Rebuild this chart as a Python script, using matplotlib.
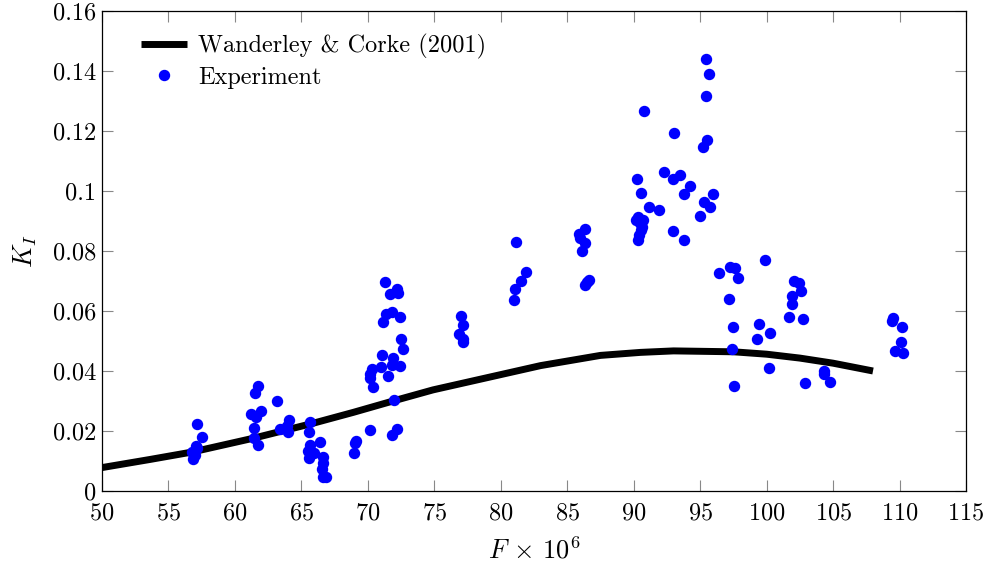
import matplotlib
matplotlib.use('Agg')
import matplotlib.pyplot as plt
from matplotlib.ticker import FuncFormatter

# Police type LaTeX (Computer Modern)
plt.rcParams['font.family'] = 'serif'
plt.rcParams['font.serif'] = ['cmr10', 'DejaVu Serif']
plt.rcParams['mathtext.fontset'] = 'cm'
plt.rcParams['axes.unicode_minus'] = False
plt.rcParams['axes.formatter.use_mathtext'] = True

# Courbe de Wanderley & Corke (2001)
model_f = [50, 53.6, 56.8, 61.4, 65.9, 68.9, 71.9, 74.9, 79.9, 83.0, 87.5,
           90.5, 93.0, 97.5, 100.0, 102.5, 105.0, 108.0]
model_k = [0.0078, 0.0105, 0.0130, 0.0176, 0.0226, 0.0262, 0.0300, 0.0337,
           0.0387, 0.0418, 0.0452, 0.0462, 0.0467, 0.0464, 0.0456, 0.0443,
           0.0426, 0.0400]

# Points expérimentaux
exp_f = [57.17, 57.55, 56.87, 57.0, 57.17, 56.75, 57.1, 56.95,
         61.76, 61.5, 61.19, 62.0, 61.6, 61.4, 61.44, 61.76, 63.2, 63.4, 64.07, 64.0, 63.9,
         65.65, 65.6, 65.65, 65.52, 65.6, 65.95, 66.4, 66.65, 66.6, 66.58, 66.65, 66.83,
         71.29, 71.67, 72.22, 72.3, 71.17, 71.34, 71.8, 72.42, 72.47, 72.62, 71.09, 71.92,
         70.96, 71.84, 72.42, 70.29, 70.16, 70.36, 71.54, 71.97, 70.16, 72.22, 71.8,
         69.11, 69.04, 68.96, 70.2,
         77.01, 77.13, 76.88, 77.18, 77.13,
         81.15, 81.9, 81.5, 81.1, 81.0,
         86.34, 85.9, 86.34, 86.09, 86.6, 86.34, 86.45, 85.95,
         95.44, 95.69, 95.42, 90.8, 93.05, 95.49, 95.24, 90.23, 92.28, 93.48, 92.93,
         94.24, 93.79, 90.55, 95.94, 95.32, 95.74, 94.99, 91.17, 91.9, 90.35, 90.73,
         90.48, 90.53, 90.4, 90.35, 90.17, 92.93, 93.81, 90.6,
         99.88, 96.42, 97.25, 97.62, 97.87, 97.2, 102.06, 102.44, 102.56, 101.88,
         101.93, 101.71, 102.76, 97.45, 99.45, 100.26, 99.26, 97.42, 100.18, 97.55,
         102.87, 104.32, 104.32, 104.77,
         109.49, 109.41, 110.16, 110.09, 109.66, 110.24]
exp_k = [0.0222, 0.0180, 0.0107, 0.0120, 0.0142, 0.0131, 0.0150, 0.0125,
         0.0350, 0.0326, 0.0257, 0.0267, 0.0246, 0.0211, 0.0178, 0.0153, 0.0301, 0.0207, 0.0237, 0.0198, 0.0215,
         0.0231, 0.0198, 0.0153, 0.0134, 0.0111, 0.0126, 0.0164, 0.0114, 0.0092, 0.0072, 0.0046, 0.0046,
         0.0696, 0.0657, 0.0673, 0.0661, 0.0562, 0.0589, 0.0596, 0.0581, 0.0508, 0.0474, 0.0454, 0.0444,
         0.0413, 0.0420, 0.0417, 0.0406, 0.0377, 0.0346, 0.0383, 0.0303, 0.0202, 0.0207, 0.0187,
         0.0168, 0.0159, 0.0126, 0.0390,
         0.0583, 0.0553, 0.0523, 0.0506, 0.0498,
         0.0830, 0.0731, 0.0699, 0.0673, 0.0637,
         0.0872, 0.0857, 0.0828, 0.0801, 0.0703, 0.0687, 0.0695, 0.0845,
         0.1440, 0.1391, 0.1318, 0.1268, 0.1194, 0.1171, 0.1146, 0.1040, 0.1064, 0.1054, 0.1039,
         0.1017, 0.0989, 0.0994, 0.0989, 0.0964, 0.0946, 0.0918, 0.0948, 0.0936, 0.0914, 0.0903,
         0.0892, 0.0870, 0.0853, 0.0837, 0.0903, 0.0867, 0.0838, 0.0880,
         0.0770, 0.0726, 0.0746, 0.0742, 0.0709, 0.0639, 0.0700, 0.0694, 0.0668, 0.0650,
         0.0622, 0.0581, 0.0572, 0.0546, 0.0558, 0.0527, 0.0506, 0.0473, 0.0410, 0.0351,
         0.0361, 0.0401, 0.0389, 0.0362,
         0.0576, 0.0568, 0.0548, 0.0496, 0.0468, 0.0459]

x_ticks = list(range(50, 116, 5))
y_ticks = [0, 0.02, 0.04, 0.06, 0.08, 0.1, 0.12, 0.14, 0.16]

fig = plt.figure(figsize=(9.89, 5.65), dpi=100)
ax = fig.add_axes([0.1031, 0.131, 0.8737, 0.8495])

ax.plot(model_f, model_k, color='black', linewidth=5, solid_capstyle='butt',
        label='Wanderley & Corke (2001)', zorder=2)
ax.plot(exp_f, exp_k, linestyle='none', marker='o', markersize=7.2,
        color=(0, 0, 1), label='Experiment', zorder=3)

ax.set_xlim(50, 115)
ax.set_ylim(0, 0.16)
ax.set_xticks(x_ticks)
ax.set_yticks(y_ticks)
ax.yaxis.set_major_formatter(FuncFormatter(lambda v, p: '%g' % round(v, 4)))
ax.tick_params(direction='in', length=8, width=0.8, color='#888888',
               top=True, right=True, labelsize=17.5)
ax.tick_params(axis='x', pad=8)
ax.tick_params(axis='y', pad=4)
for s in ax.spines.values():
    s.set_linewidth(0.9)

ax.set_xlabel(r'$F\,\times\,10^6$', fontsize=19, labelpad=9)
ax.set_ylabel(r'$K_I$', fontsize=19, labelpad=10)

ax.legend(loc='upper left', bbox_to_anchor=(0.034, 0.972), frameon=False,
          fontsize=17.5, handlelength=1.9, borderaxespad=0,
          handletextpad=0.45, labelspacing=0.3)

fig.savefig('out.png', dpi=100)
